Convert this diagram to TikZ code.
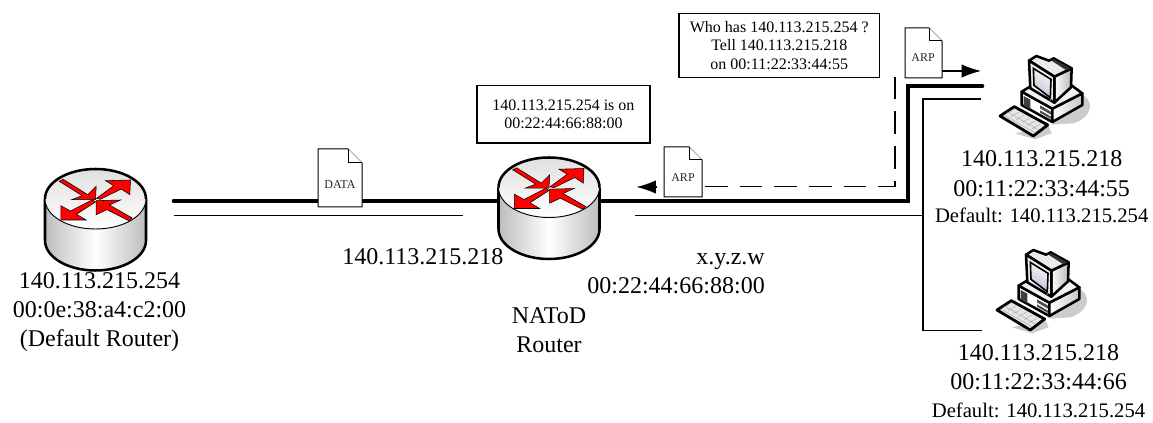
\documentclass[tikz,border=0pt]{standalone}
\usepackage{fontspec}
\setmainfont{Liberation Serif}
\usetikzlibrary{arrows.meta}
\definecolor{redf}{HTML}{FF0000}
\tikzset{
  link/.style={line width=3.5pt,line cap=round,line join=miter},
  thinlink/.style={line width=1pt},
  dashlink/.style={line width=0.9pt,dash pattern=on 17pt off 9pt},
  hop/.style={line width=0.9pt,-{Latex[length=14.5pt,width=10pt]}},
  big/.style={font=\fontsize{18pt}{21pt}\selectfont,inner sep=0pt},
  mid/.style={font=\fontsize{15.5pt}{18pt}\selectfont,inner sep=0pt},
  note/.style={font=\fontsize{12pt}{13.9pt}\selectfont,draw,line width=1pt,align=center,inner sep=0pt},
  doclabel/.style={font=\fontsize{9pt}{10pt}\selectfont,inner sep=0pt,text=black!85},
  docshape/.style={draw,fill=white,line width=0.75pt,line join=miter},
  arrowf/.style={fill=redf,draw=black,line width=0.4pt,line join=miter},
  outline/.style={line width=1.9pt,draw=black},
  pcline/.style={draw=black,line width=1.9pt,line join=round}
}
\newcommand{\routerart}[2]{%
  \begin{scope}[shift={(#1,#2)}]
    \path[left color=black!26,right color=black!26,middle color=white]
      (-50.5,0) -- (-50.5,41.5) .. controls (-50.5,58) and (-28,71.5) .. (0,71.5)
      .. controls (28,71.5) and (50.5,58) .. (50.5,41.5) -- (50.5,0) -- cycle;
    \draw[outline] (-50.5,0) -- (-50.5,41.5) .. controls (-50.5,58) and (-28,71.5) .. (0,71.5)
      .. controls (28,71.5) and (50.5,58) .. (50.5,41.5) -- (50.5,0);
    \path[shading=axis,top color=black!12,bottom color=white] (0,0) ellipse [x radius=50.5,y radius=30];
    \draw[outline] (-50.5,0) .. controls (-50.5,-16.6) and (-28,-30) .. (0,-30)
      .. controls (28,-30) and (50.5,-16.6) .. (50.5,0);
    \draw[line width=0.7pt] (-50.5,0) .. controls (-50.5,16.6) and (-28,30) .. (0,30)
      .. controls (28,30) and (50.5,16.6) .. (50.5,0);
    \draw[arrowf] (-36.3,-17.7) -- (-32.3,-19.7) -- (-7.7,-4.3) -- (0.7,-12.7) -- (0,0.7) -- (-24,0.7) -- (-13.3,-3.3) -- cycle;
    \draw[arrowf] (1,-0.7) -- (18.3,-13.3) -- (10,-18.3) -- (35,-19) -- (34.3,-4.3) -- (25.7,-10) -- (5,0.3) -- cycle;
    \draw[arrowf] (-3,0.7) -- (-25,12) -- (-34.7,6.7) -- (-34.7,21) -- (-9.3,21) -- (-19,15.3) -- (0,3) -- cycle;
    \draw[arrowf] (36.7,19) -- (33.3,21.7) -- (11.3,10.7) -- (0.7,15.7) -- (0.7,1.7) -- (25,1) -- (14,6) -- cycle;
  \end{scope}}
\newcommand{\docart}[5]{% x y w h fold
  \draw[docshape] (#1,#2) -- ({#1+#3-#5},#2) -- ({#1+#3},{#2+#5}) -- ({#1+#3},{#2+#4}) -- (#1,{#2+#4}) -- cycle;
  \draw[docshape] ({#1+#3-#5},#2) -- ({#1+#3-#5},{#2+#5}) -- ({#1+#3},{#2+#5});}
\newcommand{\pcart}[2]{%
  \begin{scope}[shift={(#1,#2)},x=0.25pt,y=-0.25pt]
    \fill[black!20] (255,130) .. controls (300,150) and (295,200) .. (235,220) -- (172,224) -- (160,150) -- cycle;
    \fill[black!20] (60,250) -- (160,228) -- (170,250) -- (120,268) -- cycle;
    % base
    \filldraw[fill=white,pcline] (80,125) -- (80,165) -- (172,216) -- (172,176) -- cycle;
    \filldraw[left color=white,right color=black!22,pcline] (172,176) -- (262,130) -- (262,165) -- (172,216) -- cycle;
    \filldraw[fill=black!5,pcline] (80,125) -- (105,110) -- (228,105) -- (262,130) -- (172,176) -- cycle;
    \fill[black!75] (86,138) -- (106,149) -- (106,178) -- (86,166) -- cycle;
    \fill[black!70] (135,166) -- (168,185) -- (168,194) -- (135,175) -- cycle;
    \fill[black!70] (135,181) -- (168,200) -- (168,207) -- (135,188) -- cycle;
    % monitor
    \filldraw[left color=white,right color=black!28,pcline] (178,80) -- (230,55) -- (228,112) -- (178,158) -- cycle;
    \filldraw[fill=black!8,pcline] (102,32) -- (124,18) -- (162,32) -- (176,25) -- (230,55) -- (178,80) -- cycle;
    \fill[black!80] (168,31) -- (178,28) -- (226,55) -- (214,61) -- cycle;
    \filldraw[fill=black!6,pcline] (102,32) -- (178,80) -- (178,158) -- (106,115) -- cycle;
    \filldraw[shading=axis,left color=blue!22!black!24,right color=blue!3,shading angle=150,draw=black,line width=1.2pt] (115,55) -- (168,88) -- (166,143) -- (117,106) -- cycle;
    \fill[black!60] (166,150) circle [radius=3];
    % keyboard
    \filldraw[fill=black!10,draw=black,line width=2.1pt,line join=round] (15,198) -- (58,170) -- (158,225) -- (115,258) -- cycle;
    \draw[black!35,line width=0.3pt] (32,192) -- (56,178) (48,200) -- (72,186) (64,209) -- (88,195) (80,218) -- (104,204) (96,227) -- (120,213) (112,236) -- (136,222)
      (38,186) -- (130,240) (28,196) -- (120,248);
  \end{scope}}
\begin{document}
\begin{tikzpicture}[x=0.75pt,y=-0.75pt]
\useasboundingbox (0,0) rectangle (1153,423);

\coordinate (linkA) at (174,201);
\coordinate (rtA) at (95.5,199);
\coordinate (rtB) at (549,187.5);
\coordinate (cornerB) at (908,201);
\coordinate (cornerC) at (908,86);
\coordinate (pcA) at (982,86);
\coordinate (thinA) at (174,215.5);
\coordinate (thinB) at (463,215.5);
\coordinate (thinC) at (635,215.5);
\coordinate (thinD) at (923,215.5);
\coordinate (thinE) at (923,99);
\coordinate (thinF) at (981,99);
\coordinate (thinG) at (923,330.5);
\coordinate (thinH) at (981.5,330.5);
\coordinate (dashA) at (895,73);
\coordinate (dashB) at (895,186.7);
\coordinate (dashC) at (705,186.7);
\coordinate (hopA) at (657,187);
\coordinate (hopB) at (636.5,187);
\coordinate (hopC) at (942,71);
\coordinate (hopD) at (981,71);

\draw[link] (linkA) -- (cornerB) -- (cornerC) -- (pcA);
\draw[thinlink] (thinA) -- (thinB);
\draw[thinlink] (thinC) -- (thinD) (thinF) -- (thinE) -- (thinG) -- (thinH);
\draw[dashlink] (dashC) -- (dashB) -- (dashA);
\draw[hop] (hopA) -- (hopB);
\draw[hop] (hopC) -- (hopD);

\routerart{95.5}{199}
\routerart{549}{187.5}

\docart{318}{149}{44}{58}{14}
\node[doclabel,anchor=base] (dataL) at (340,189) {DATA};
\docart{664}{147}{38}{50}{13}
\node[doclabel,anchor=base] (arpL) at (683,181.7) {ARP};
\docart{905}{28}{37}{50}{13}
\node[doclabel,anchor=base] (arpR) at (923,62) {ARP};

\pcart{995}{50}
\pcart{992}{244}

\node[note,minimum width=150.6pt,minimum height=47.7pt] (who) at (779.3,45.5) {Who has 140.113.215.254 ?\\Tell 140.113.215.218\\on 00:11:22:33:44:55};
\node[note,minimum width=129.8pt,minimum height=43pt] (ison) at (563.4,114.4) {140.113.215.254 is on\\00:22:44:66:88:00};

\node[big,anchor=base] (a1) at (99.5,289) {140.113.215.254};
\node[big,anchor=base] (a2) at (99.5,318) {00:0e:38:a4:c2:00};
\node[big,anchor=base] (a3) at (99.5,347) {(Default Router)};
\node[big,anchor=base west] (b1) at (342,265) {140.113.215.218};
\node[big,anchor=base east] (b2) at (765,265) {x.y.z.w};
\node[big,anchor=base east] (b3) at (765,294) {00:22:44:66:88:00};
\node[big,anchor=base] (b4) at (549,324) {NAToD};
\node[big,anchor=base] (b5) at (549,353) {Router};
\node[big,anchor=base] (c1) at (1041.7,167) {140.113.215.218};
\node[big,anchor=base] (c2) at (1041.7,196.7) {00:11:22:33:44:55};
\node[mid,anchor=base] (c3) at (1041.7,222.7) {Default: 140.113.215.254};
\node[big,anchor=base] (d1) at (1038.5,361) {140.113.215.218};
\node[big,anchor=base] (d2) at (1038.5,390) {00:11:22:33:44:66};
\node[mid,anchor=base] (d3) at (1038.5,418) {Default: 140.113.215.254};
\end{tikzpicture}
\end{document}
